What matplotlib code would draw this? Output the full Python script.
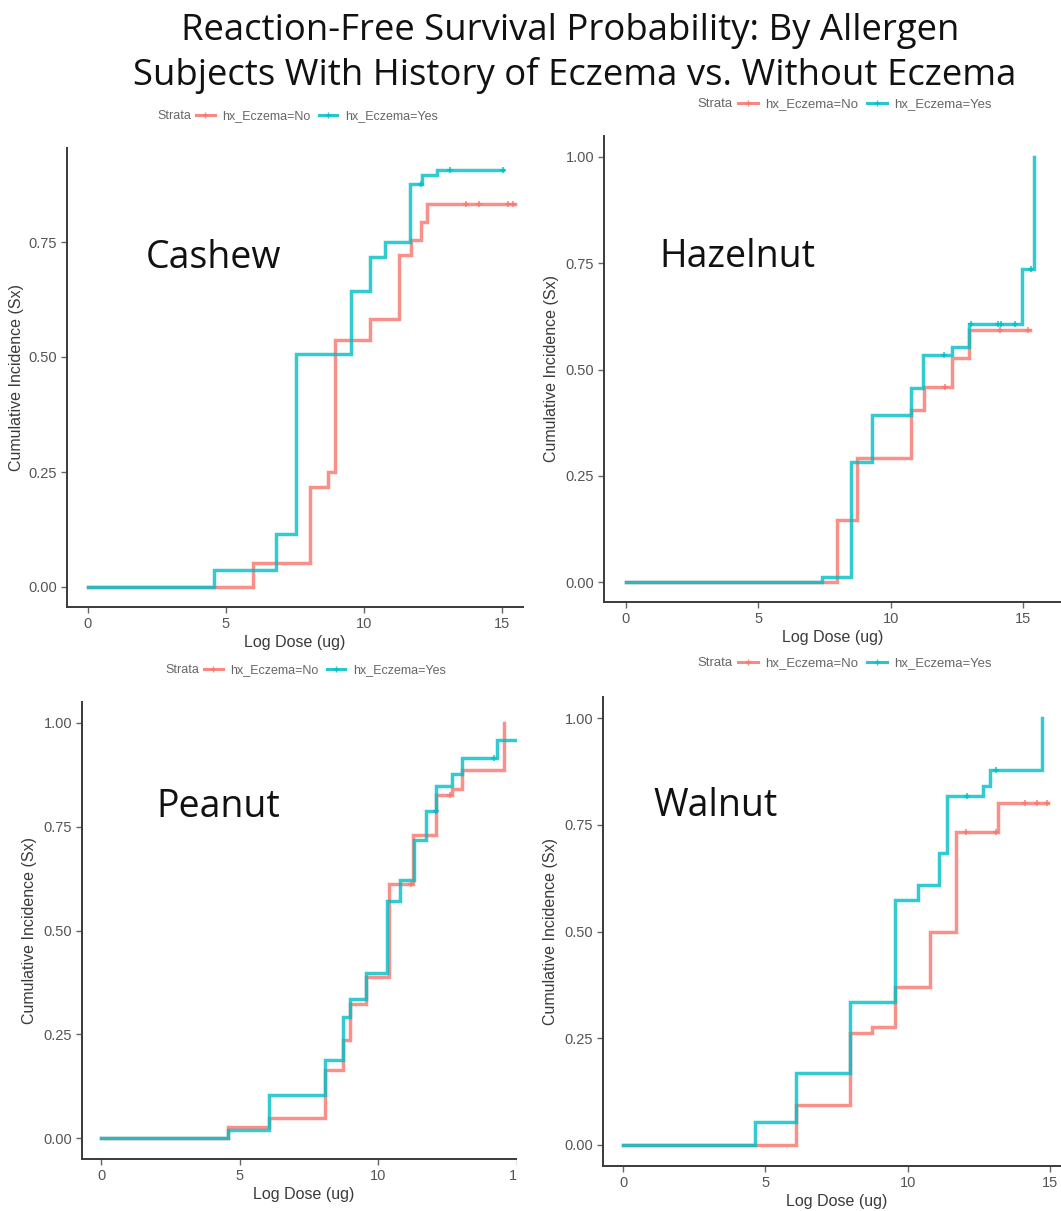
import matplotlib
matplotlib.use("Agg")
import matplotlib.pyplot as plt
from matplotlib.lines import Line2D
from matplotlib.patches import Rectangle

# ---- data: (event dose, cumulative incidence) ----
allergens = ["Cashew", "Hazelnut", "Peanut", "Walnut"]

cashew_no_t = [5.98, 8.06, 8.70, 8.95, 10.23, 11.26, 11.69, 12.05, 12.29]
cashew_no_y = [0.052, 0.217, 0.251, 0.538, 0.583, 0.722, 0.754, 0.793, 0.832]
cashew_no_end = 15.46
cashew_no_cens = [13.68, 14.17, 15.20, 15.40]
cashew_yes_t = [4.57, 6.80, 7.52, 9.52, 10.23, 10.77, 11.65, 12.10, 12.66]
cashew_yes_y = [0.036, 0.116, 0.507, 0.643, 0.717, 0.751, 0.877, 0.895, 0.906]
cashew_yes_end = 15.04
cashew_yes_cens = [12.05, 13.10, 15.04]

hazel_no_t = [7.99, 8.71, 10.78, 11.26, 12.32, 12.95]
hazel_no_y = [0.146, 0.291, 0.404, 0.459, 0.526, 0.592]
hazel_no_end = 15.25
hazel_no_cens = [12.04, 14.12, 15.19]
hazel_yes_t = [7.39, 8.49, 9.30, 10.78, 11.22, 12.32, 12.95, 14.97, 15.41]
hazel_yes_y = [0.012, 0.282, 0.393, 0.457, 0.535, 0.553, 0.606, 0.736, 1.0]
hazel_yes_end = 15.41
hazel_yes_cens = [12.01, 13.05, 14.06, 14.16, 14.68, 15.30]

peanut_no_t = [4.60, 6.05, 8.10, 8.73, 9.00, 9.58, 10.39, 11.27, 12.11, 12.67, 13.04, 14.54]
peanut_no_y = [0.027, 0.049, 0.163, 0.236, 0.324, 0.389, 0.612, 0.730, 0.827, 0.841, 0.887, 1.0]
peanut_no_end = 14.54
peanut_no_cens = [11.20, 12.60]
peanut_yes_t = [4.60, 6.05, 8.10, 8.73, 9.00, 9.58, 10.33, 10.81, 11.29, 11.73, 12.11, 12.67, 13.04, 14.28]
peanut_yes_y = [0.019, 0.103, 0.187, 0.292, 0.334, 0.398, 0.570, 0.622, 0.717, 0.789, 0.847, 0.878, 0.916, 0.960]
peanut_yes_end = 15.3
peanut_yes_cens = [12.10, 14.20]

walnut_no_t = [6.06, 7.97, 8.73, 9.55, 10.78, 11.68, 13.18]
walnut_no_y = [0.094, 0.262, 0.277, 0.369, 0.500, 0.734, 0.801]
walnut_no_end = 14.94
walnut_no_cens = [12.05, 13.10, 14.12, 14.53, 14.90]
walnut_yes_t = [4.63, 6.06, 7.97, 9.55, 10.35, 11.10, 11.37, 12.66, 12.89, 14.73]
walnut_yes_y = [0.055, 0.168, 0.336, 0.574, 0.609, 0.684, 0.818, 0.840, 0.879, 1.0]
walnut_yes_end = 14.73
walnut_yes_cens = [12.10, 13.10]

RED = "#F8766D"
CYAN = "#00BFC4"

W, H = 1061, 1211
fig = plt.figure(figsize=(W / 100, H / 100), dpi=100)
plt.rcParams["font.family"] = ["Liberation Sans", "DejaVu Sans"]


def px_axes(left, right, bottom, top):
    return fig.add_axes([left / W, 1 - bottom / H, (right - left) / W, (bottom - top) / H])


def curve(t, y, end, cens):
    x = [0] + t + [end]
    v = [0] + y + [y[-1]]
    cy = []
    for c in cens:
        val = 0
        for ti, yi in zip(t, y):
            if ti <= c:
                val = yi
        cy.append(val)
    return x, v, cy


def panel(box, x0, xppu, y0, yppu, series, label, label_xy, yticks, ylabelpad):
    left, right, bottom, top = box
    ax = px_axes(left, right, bottom, top)
    ax.set_xlim((left - x0) / xppu, (right - x0) / xppu)
    ax.set_ylim((y0 - bottom) / yppu, (y0 - top) / yppu)
    for (t, y, end, cens), col in zip(series, [RED, CYAN]):
        x, v, cy = curve(t, y, end, cens)
        ax.step(x, v, where="post", color=col, lw=2.5, alpha=0.8, solid_joinstyle="miter")
        ax.plot(cens, cy, ls="none", marker="+", ms=5, mew=1.2, color=col, alpha=0.85)
    ax.set_xticks([0, 5, 10, 15])
    ax.set_yticks(yticks)
    ax.set_yticklabels(["%.2f" % v for v in yticks])
    for s in ["top", "right"]:
        ax.spines[s].set_visible(False)
    for s in ["left", "bottom"]:
        ax.spines[s].set_color("#3a3a3a")
        ax.spines[s].set_linewidth(1.4)
    ax.tick_params(colors="#666666", labelcolor="#555555", labelsize=10.5, length=4, width=1, pad=3)
    ax.set_xlabel("Log Dose (ug)", fontsize=11.5, color="#3a3a3a", labelpad=3)
    ax.set_ylabel("Cumulative Incidence (Sx)", fontsize=11.5, color="#3a3a3a", labelpad=ylabelpad)
    ax.set_facecolor("none")
    fig.text(label_xy[0] / W, 1 - label_xy[1] / H, label, fontsize=27, family="Open Sans",
             ha="center", va="center", color="#111111")
    return ax


def legend(x, y, scale=1.0):
    # "Strata" key drawn above each panel
    fs = 9 * scale
    fig.text(x / W, 1 - y / H, "Strata", fontsize=fs, color="#666666", va="center")
    handles = [Line2D([], [], color=RED, lw=2.2, marker="+", ms=5, alpha=0.85),
               Line2D([], [], color=CYAN, lw=2.2, marker="+", ms=5, alpha=0.85)]
    fig.legend(handles, ["hx_Eczema=No", "hx_Eczema=Yes"], loc="center left",
               bbox_to_anchor=((x + 39 * scale) / W, 1 - y / H), ncol=2, frameon=False,
               fontsize=fs, labelcolor="#666666", handlelength=1.5,
               handletextpad=0.6, columnspacing=0.65, borderpad=0, borderaxespad=0)


yt3 = [0, 0.25, 0.5, 0.75]
yt4 = [0, 0.25, 0.5, 0.75, 1.0]

panel((67, 523, 607, 148), 88, 27.6, 587, 460,
      [(cashew_no_t, cashew_no_y, cashew_no_end, cashew_no_cens),
       (cashew_yes_t, cashew_yes_y, cashew_yes_end, cashew_yes_cens)],
      allergens[0], (213, 258), yt3, 3)
panel((604, 1061, 602, 136), 626, 26.47, 582, 425,
      [(hazel_no_t, hazel_no_y, hazel_no_end, hazel_no_cens),
       (hazel_yes_t, hazel_yes_y, hazel_yes_end, hazel_yes_cens)],
      allergens[1], (737, 257), yt4, 5)
panel((82, 525, 1159, 702), 101, 27.7, 1138, 415,
      [(peanut_no_t, peanut_no_y, peanut_no_end, peanut_no_cens),
       (peanut_yes_t, peanut_yes_y, peanut_yes_end, peanut_yes_cens)],
      allergens[2], (218, 807), yt4, 5)
panel((603, 1070, 1166, 697), 623, 28.47, 1145, 427,
      [(walnut_no_t, walnut_no_y, walnut_no_end, walnut_no_cens),
       (walnut_yes_t, walnut_yes_y, walnut_yes_end, walnut_yes_cens)],
      allergens[3], (716, 806), yt4, 5)

# the peanut panel is cut off on the right in the source image
fig.add_artist(Rectangle((517 / W, 0), 18 / W, 1 - 680 / H, transform=fig.transFigure,
                         facecolor="white", edgecolor="none", zorder=10))

legend(157, 116)
legend(697, 104, 1.05)
legend(165, 670)
legend(697, 663, 1.05)

fig.text(570 / W, 1 - 31 / H, "Reaction-Free Survival Probability: By Allergen",
         fontsize=26.3, family="Open Sans", ha="center", va="center", color="#111111")
fig.text(575 / W, 1 - 76 / H, "Subjects With History of Eczema vs. Without Eczema",
         fontsize=26.3, family="Open Sans", ha="center", va="center", color="#111111")

fig.savefig("out.png", dpi=100, facecolor="white")
